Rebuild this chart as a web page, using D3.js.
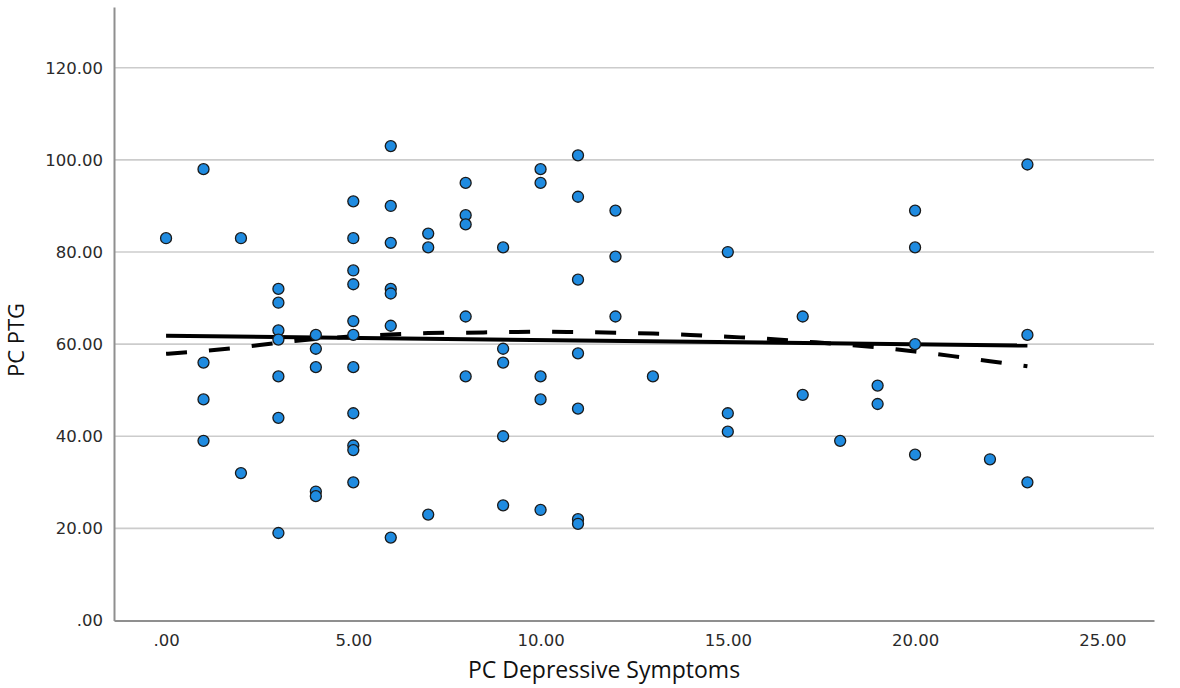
<!DOCTYPE html>
<html>
<head>
<meta charset="utf-8">
<script src="https://cdn.jsdelivr.net/npm/d3@7.9.0/dist/d3.min.js"></script>
<style>
  html, body { margin: 0; padding: 0; background: #fff; }
  svg { display: block; }
</style>
</head>
<body>
<svg id="chart" width="1180" height="688"></svg>
<script>
// PC Depressive Symptoms (x) and PC PTG (y), one entry per respondent
const depressive = [
  0,
  1, 1, 1, 1,
  2, 2,
  3, 3, 3, 3, 3, 3, 3,
  4, 4, 4, 4, 4,
  5, 5, 5, 5, 5, 5, 5, 5, 5, 5, 5,
  6, 6, 6, 6, 6, 6, 6,
  7, 7, 7,
  8, 8, 8, 8, 8,
  9, 9, 9, 9, 9,
  10, 10, 10, 10, 10,
  11, 11, 11, 11, 11, 11, 11,
  12, 12, 12,
  13,
  15, 15, 15,
  17, 17,
  18,
  19, 19,
  20, 20, 20, 20,
  22,
  23, 23, 23
];
const ptg = [
  83,
  98, 56, 48, 39,
  83, 32,
  72, 69, 63, 61, 53, 44, 19,
  62, 59, 55, 28, 27,
  91, 83, 76, 73, 65, 62, 55, 45, 38, 37, 30,
  103, 90, 82, 72, 71, 64, 18,
  84, 81, 23,
  95, 88, 86, 66, 53,
  81, 59, 56, 40, 25,
  98, 95, 53, 48, 24,
  101, 92, 74, 58, 46, 22, 21,
  89, 79, 66,
  53,
  80, 45, 41,
  66, 49,
  39,
  51, 47,
  89, 81, 60, 36,
  35,
  99, 62, 30
];

// linear fit line (solid)
const fitX = [0, 23];
const fitY = [61.8, 59.7];

// loess fit line (dashed)
const loessX = [0, 1, 2, 3, 4, 5, 6, 7, 8, 9, 10, 11, 12, 13, 14, 15, 16, 17, 18, 19, 20, 21, 22, 23];
const loessY = [57.9, 58.5, 59.3, 60.3, 61.1, 61.7, 62.1, 62.4, 62.5, 62.6, 62.7, 62.6, 62.5, 62.3, 62.0, 61.6, 61.2, 60.6, 60.0, 59.3, 58.4, 57.4, 56.3, 55.2];

const xTicks = [0, 5, 10, 15, 20, 25];
const yTicks = [0, 20, 40, 60, 80, 100, 120];

const plotLeft = 114, plotRight = 1154, plotTop = 7, plotBottom = 620.5;

const x = d3.scaleLinear().domain([-1.39, 26.38]).range([plotLeft, plotRight]);
const y = d3.scaleLinear().domain([0, 133.2]).range([plotBottom, plotTop]);

const fmt = v => d3.format(".2f")(v).replace(/^0\./, ".");

const svg = d3.select('#chart');

// gridlines
svg.append('g')
  .selectAll('line')
  .data(yTicks.filter(v => v > 0))
  .join('line')
  .attr('x1', plotLeft).attr('x2', plotRight)
  .attr('y1', d => y(d)).attr('y2', d => y(d))
  .attr('stroke', '#cccccc')
  .attr('stroke-width', 1.6);

// axes
const yAxis = svg.append('g')
  .attr('transform', `translate(${plotLeft},0)`)
  .call(d3.axisLeft(y).tickValues(yTicks).tickFormat(fmt).tickSize(0).tickPadding(11));
const xAxis = svg.append('g')
  .attr('transform', `translate(0,${plotBottom})`)
  .call(d3.axisBottom(x).tickValues(xTicks).tickFormat(fmt).tickSize(0).tickPadding(14));

[xAxis, yAxis].forEach(g => {
  g.select('.domain').attr('stroke', '#8f8f8f').attr('stroke-width', 2);
  g.selectAll('text')
    .attr('fill', '#2a2a2a')
    .style('font-family', '"DejaVu Sans", sans-serif')
    .style('font-size', '16.5px');
});

// fit lines
const solid = fitX.map((v, i) => [v, fitY[i]]);
svg.append('path')
  .datum(solid)
  .attr('d', d3.line().x(d => x(d[0])).y(d => y(d[1])))
  .attr('fill', 'none')
  .attr('stroke', '#000')
  .attr('stroke-width', 4);

const loess = loessX.map((v, i) => [v, loessY[i]]);
svg.append('path')
  .datum(loess)
  .attr('d', d3.line().curve(d3.curveMonotoneX).x(d => x(d[0])).y(d => y(d[1])))
  .attr('fill', 'none')
  .attr('stroke', '#000')
  .attr('stroke-width', 4)
  .attr('stroke-dasharray', '21 22');

// points
svg.append('g')
  .selectAll('circle')
  .data(depressive.map((v, i) => [v, ptg[i]]))
  .join('circle')
  .attr('cx', d => x(d[0]))
  .attr('cy', d => y(d[1]))
  .attr('r', 5.5)
  .attr('fill', '#1f8be0')
  .attr('stroke', '#1a1a1a')
  .attr('stroke-width', 1.3);

// axis titles
svg.append('text')
  .attr('x', 604).attr('y', 678)
  .attr('text-anchor', 'middle')
  .style('font-family', '"Open Sans", sans-serif')
  .style('font-size', '23px')
  .attr('fill', '#111')
  .text('PC Depressive Symptoms');

svg.append('text')
  .attr('transform', 'translate(24,340) rotate(-90)')
  .attr('text-anchor', 'middle')
  .style('font-family', '"Open Sans", sans-serif')
  .style('font-size', '22px')
  .attr('fill', '#111')
  .text('PC PTG');
</script>
</body>
</html>
